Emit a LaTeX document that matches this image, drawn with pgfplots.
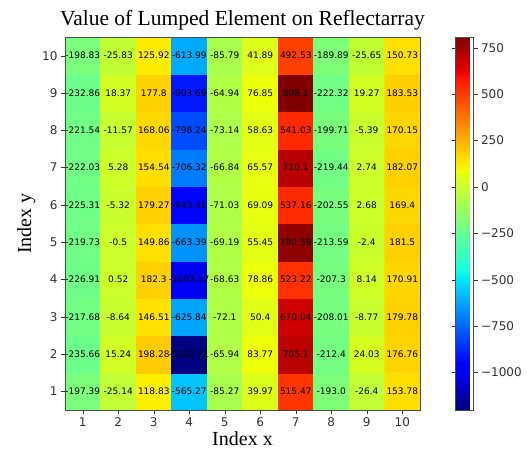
\documentclass[border=0pt]{standalone}
\usepackage{pgfplots}
\pgfplotsset{compat=1.18}
\usepackage{pgfplotstable}
\usepackage{fontspec}
\setmainfont{Liberation Serif}
\newfontfamily\dejavu{DejaVu Sans}
\pgfplotsset{colormap={mpljet}{
  rgb(0cm)=(0,0,0.5); rgb(22cm)=(0,0,1); rgb(25cm)=(0,0,1);
  rgb(68cm)=(0,0.86,1); rgb(70cm)=(0,0.9,0.9677); rgb(75cm)=(0.0806,1,0.8871);
  rgb(128cm)=(0.9355,1,0.0323); rgb(130cm)=(0.9677,0.963,0); rgb(132cm)=(1,0.9259,0);
  rgb(178cm)=(1,0.0741,0); rgb(182cm)=(0.9091,0,0); rgb(200cm)=(0.5,0,0)}}
\pgfplotstableread{
x y c
1 1 -197.39
2 1 -25.14
3 1 118.83
4 1 -565.27
5 1 -85.27
6 1 39.97
7 1 515.47
8 1 -193.0
9 1 -26.4
10 1 153.78
1 2 -235.66
2 2 15.24
3 2 198.28
4 2 -1202.11
5 2 -65.94
6 2 83.77
7 2 705.1
8 2 -212.4
9 2 24.03
10 2 176.76
1 3 -217.68
2 3 -8.64
3 3 146.51
4 3 -625.84
5 3 -72.1
6 3 50.4
7 3 670.04
8 3 -208.01
9 3 -8.77
10 3 179.78
1 4 -226.91
2 4 0.52
3 4 182.3
4 4 -1003.17
5 4 -68.63
6 4 78.86
7 4 523.22
8 4 -207.3
9 4 8.14
10 4 170.91
1 5 -219.73
2 5 -0.5
3 5 149.86
4 5 -663.39
5 5 -69.19
6 5 55.45
7 5 780.59
8 5 -213.59
9 5 -2.4
10 5 181.5
1 6 -225.31
2 6 -5.32
3 6 179.27
4 6 -943.41
5 6 -71.03
6 6 69.09
7 6 537.16
8 6 -202.55
9 6 2.68
10 6 169.4
1 7 -222.03
2 7 5.28
3 7 154.54
4 7 -706.32
5 7 -66.84
6 7 65.57
7 7 710.1
8 7 -219.44
9 7 2.74
10 7 182.07
1 8 -221.54
2 8 -11.57
3 8 168.06
4 8 -798.24
5 8 -73.14
6 8 58.63
7 8 541.03
8 8 -199.71
9 8 -5.39
10 8 170.15
1 9 -232.86
2 9 18.37
3 9 177.8
4 9 -903.69
5 9 -64.94
6 9 76.85
7 9 808.1
8 9 -222.32
9 9 19.27
10 9 183.53
1 10 -198.83
2 10 -25.83
3 10 125.92
4 10 -613.99
5 10 -85.79
6 10 41.89
7 10 492.53
8 10 -189.89
9 10 -25.65
10 10 150.73
}\datatable

\begin{document}
\begin{tikzpicture}
\begin{axis}[
  scale only axis, width=355pt, height=373pt,
  xmin=0.5, xmax=10.5, ymin=0.5, ymax=10.5,
  enlargelimits=false,
  axis on top,
  xtick={1,...,10}, ytick={1,...,10},
  tick align=outside, tick pos=left,
  major tick length=4pt,
  ticklabel style={font=\dejavu\fontsize{12}{14}\selectfont, text=black!80},
  /pgf/number format/assume math mode=true,
  xlabel={Index x}, ylabel={Index y},
  xlabel style={font=\fontsize{20}{24}\selectfont, yshift=2pt},
  ylabel style={font=\fontsize{20}{24}\selectfont},
  title={Value of Lumped Element on Reflectarray},
  title style={font=\fontsize{21.5}{25}\selectfont, yshift=-3pt},
  colormap name=mpljet,
  point meta min=-1202.11, point meta max=808.1,
  axis line style={black!70},
  major tick style={black!80},
  colorbar,
  colorbar style={
    at={(parent axis.north east)}, anchor=north west, xshift=27pt,
    scale only axis, width=18pt, height=373pt,
    ytick={-1000,-750,-500,-250,0,250,500,750},
    yticklabels={−1000,−750,−500,−250,0,250,500,750},
    yticklabel style={font=\dejavu\fontsize{12}{14}\selectfont, text=black!80},
    tick align=outside, major tick length=4pt,
    axis line style={black!70},
  },
]
\addplot[matrix plot*, mesh/cols=10, point meta=explicit] table[x=x, y=y, meta=c] {\datatable};
\addplot[only marks, mark=*, mark size=0pt, mark options={draw=none, fill=none},
  nodes near coords, point meta=explicit symbolic,
  nodes near coords style={anchor=center, inner sep=0pt, font=\dejavu\fontsize{9}{10}\selectfont, text=black}]
  table[x=x, y=y, meta=c] {\datatable};
\end{axis}
\pgfresetboundingbox
\path (-65pt,-49pt) rectangle (462pt,410pt);
\end{tikzpicture}
\end{document}
